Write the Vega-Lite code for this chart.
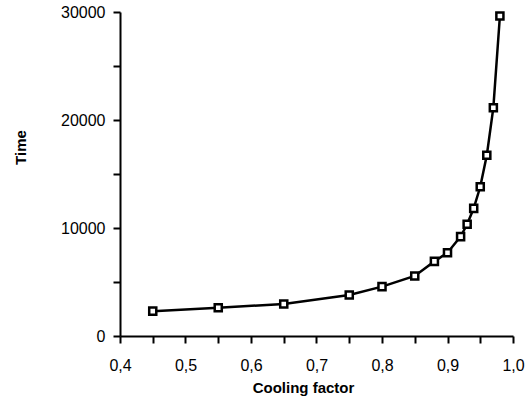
{
  "$schema": "https://vega.github.io/schema/vega-lite/v6.json",
  "autosize": "none",
  "width": 393,
  "height": 324,
  "padding": {"left": 120, "top": 12, "right": 16, "bottom": 69},
  "config": {
    "view": {"stroke": null},
    "font": "Liberation Sans",
    "axis": {
      "domainColor": "black",
      "domainWidth": 2,
      "tickColor": "black",
      "tickWidth": 2,
      "tickSize": 7,
      "grid": false,
      "labelColor": "black",
      "labelFont": "Liberation Sans",
      "labelFontSize": 16,
      "titleColor": "black",
      "titleFont": "Liberation Sans",
      "titleFontSize": 15,
      "titleFontWeight": "bold"
    }
  },
  "data": {
    "values": [
      {"cf": 0.45, "time": 2300},
      {"cf": 0.55, "time": 2620},
      {"cf": 0.65, "time": 2960},
      {"cf": 0.75, "time": 3800},
      {"cf": 0.80, "time": 4570},
      {"cf": 0.85, "time": 5560},
      {"cf": 0.88, "time": 6910},
      {"cf": 0.90, "time": 7715},
      {"cf": 0.92, "time": 9200},
      {"cf": 0.93, "time": 10340},
      {"cf": 0.94, "time": 11820},
      {"cf": 0.95, "time": 13820},
      {"cf": 0.96, "time": 16730},
      {"cf": 0.97, "time": 21140},
      {"cf": 0.98, "time": 29630}
    ]
  },
  "encoding": {
    "x": {
      "field": "cf",
      "type": "quantitative",
      "scale": {"domain": [0.4, 1.0], "nice": false, "zero": false},
      "axis": {
        "title": "Cooling factor",
        "values": [0.4, 0.45, 0.5, 0.55, 0.6, 0.65, 0.7, 0.75, 0.8, 0.85, 0.9, 0.95, 1.0],
        "labelExpr": "round(datum.value*100) % 10 == 0 ? replace(format(datum.value, '.1f'), '.', ',') : ''",
        "labelPadding": 14,
        "labelFlush": false,
        "labelOverlap": false,
        "titleX": 183,
        "titleY": 44,
        "titleAnchor": "middle"
      }
    },
    "y": {
      "field": "time",
      "type": "quantitative",
      "scale": {"domain": [0, 30000], "nice": false},
      "axis": {
        "title": "Time",
        "values": [0, 5000, 10000, 15000, 20000, 25000, 30000],
        "labelExpr": "datum.value % 10000 == 0 ? format(datum.value, 'd') : ''",
        "labelPadding": 8,
        "labelOverlap": false,
        "labelFlush": false,
        "titleX": -92,
        "titleY": 135,
        "titleAnchor": "middle"
      }
    }
  },
  "layer": [
    {"mark": {"type": "line", "color": "black", "strokeWidth": 2.5}},
    {"mark": {"type": "point", "shape": "square", "size": 50, "filled": true, "fill": "white", "stroke": "black", "strokeWidth": 2.5, "opacity": 1}}
  ]
}
